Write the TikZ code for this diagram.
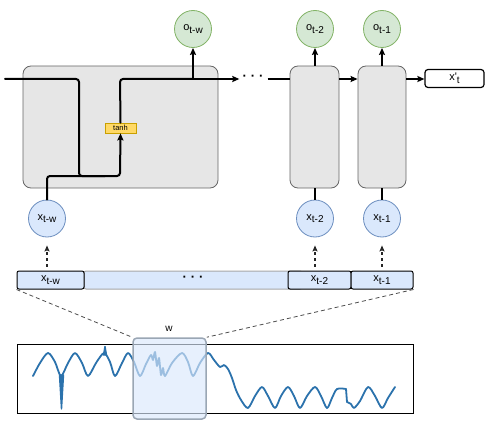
\documentclass[tikz,border=0pt]{standalone}
\usepackage{fontspec}
\setmainfont{Liberation Sans}[Ligatures=TeXOff]
\usetikzlibrary{arrows.meta}
\definecolor{bluefill}{HTML}{DAE8FC}
\definecolor{bluedraw}{HTML}{6C8EBF}
\definecolor{greenfill}{HTML}{D5E8D4}
\definecolor{greendraw}{HTML}{82B366}
\definecolor{cellfill}{HTML}{E6E6E6}
\definecolor{celldraw}{HTML}{666666}
\definecolor{tanhfill}{HTML}{FFD966}
\definecolor{tanhdraw}{HTML}{C9A000}
\definecolor{sig}{HTML}{2B72AC}
\definecolor{winedge}{HTML}{9AA6B4}
\newcommand{\mysub}[1]{\raisebox{-0.45ex}{\fontsize{10}{11}\selectfont #1}}
\tikzset{
  cellbox/.style={draw=celldraw, fill=cellfill, rounded corners=8pt, line width=0.8pt, inner sep=0pt},
  incirc/.style={circle, draw=bluedraw, fill=bluefill, minimum size=37pt, inner sep=0pt, line width=0.8pt, font=\fontsize{11}{13}\selectfont},
  outcirc/.style={circle, draw=greendraw, fill=greenfill, minimum size=37pt, inner sep=0pt, line width=0.8pt, font=\fontsize{11}{13}\selectfont},
  barcell/.style={draw=black, fill=bluefill, rounded corners=2pt, minimum height=18pt, inner sep=0pt, line width=1pt, font=\fontsize{11}{13}\selectfont},
  tip/.style={-{Stealth[length=7pt,width=6pt,inset=1pt]}},
  heavy/.style={line width=2pt, rounded corners=3pt, line cap=round},
  medium/.style={line width=1.4pt},
  dasharrow/.style={-{Stealth[length=6pt,width=5pt,inset=1pt]}, line width=1.2pt, dash pattern=on 3pt off 3pt, draw=black!85},
  guide/.style={line width=0.8pt, draw=black!70, dash pattern=on 4pt off 3pt},
  dotstext/.style={inner sep=1pt, font=\fontsize{13}{13}\selectfont\bfseries}
}
\begin{document}
\begin{tikzpicture}[x=1pt,y=-1pt]
\useasboundingbox (0,0) rectangle (485,428);
% LSTM cells
\node[cellbox, minimum width=195pt, minimum height=122pt] (cell1) at (120.5,127) {};
\node[cellbox, minimum width=49pt, minimum height=122pt] (cell2) at (314.5,127) {};
\node[cellbox, minimum width=48pt, minimum height=122pt] (cell3) at (382,127) {};
% output circles
\node[outcirc] (o1) at (193,29) {o\mysub{t-w}};
\node[outcirc] (o2) at (315,29) {o\mysub{t-2}};
\node[outcirc] (o3) at (382,29) {o\mysub{t-1}};
% input circles
\node[incirc] (xw) at (47,218.5) {x\mysub{t-w}};
\node[incirc] (x2) at (315,218.5) {x\mysub{t-2}};
\node[incirc] (x1) at (382,218.5) {x\mysub{t-1}};
% tanh
\node[draw=tanhdraw, fill=tanhfill, line width=0.7pt, minimum width=31pt, minimum height=10pt, inner sep=0pt, font=\fontsize{7.5}{8}\selectfont] (tanh) at (120.5,128) {tanh};
% output box
\node[draw=black, fill=white, rounded corners=3pt, line width=1.2pt, minimum width=59pt, minimum height=18pt, inner sep=0pt, font=\fontsize{11}{13}\selectfont] (xt) at (454.5,78.5) {x'\mysub{t}};
% coordinates
\coordinate (lin) at (5,79);
\coordinate (j) at (193,79);
\node[dotstext] (topdots) at (253,78) {·\hspace{4pt}·\hspace{4pt}·};
% inner wiring of first cell
\draw[heavy] (lin) -- (79,79) -- (79,176) -- (105,176);
\draw[heavy, tip] (xw.north) -- (47,176) -- (120,176) -- (tanh.south);
\draw[heavy] (tanh.north) -- (120,79) -- (j);
\draw[heavy, tip, rounded corners=0pt] (j) -- (o1.south);
\draw[medium, tip] (j) -- ([xshift=-2pt]topdots.west |- j);
\draw[medium] ([xshift=3pt]topdots.east |- j) -- (cell2.west |- j);
\draw[medium, tip] (cell2.east |- j) -- (cell3.west |- j);
\draw[medium, tip] (cell3.east |- j) -- (xt.west |- j);
\draw[medium, tip] (cell2.north -| o2) -- (o2.south);
\draw[medium, tip] (cell3.north -| o3) -- (o3.south);
\draw[medium] (x2.north) -- (cell2.south -| x2);
\draw[medium] (x1.north) -- (cell3.south -| x1);
% input bar
\node[barcell, draw=black!35, minimum width=218pt] (bmid) at (193,280) {};
\node[dotstext] (bdots) at (193,279) {·\hspace{4pt}·\hspace{4pt}·};
\node[barcell, minimum width=67pt] (bw) at (50.5,280) {x\mysub{t-w}};
\node[barcell, minimum width=63pt] (b2) at (319.5,280) {x\mysub{t-2}};
\node[barcell, minimum width=62pt] (b1) at (382,280) {x\mysub{t-1}};
\draw[dasharrow, shorten <=4pt, shorten >=8pt] (xw |- bw.north) -- (xw.south);
\draw[dasharrow, shorten <=4pt, shorten >=8pt] (x2 |- b2.north) -- (x2.south);
\draw[dasharrow, shorten <=4pt, shorten >=8pt] (x1 |- b1.north) -- (x1.south);
% time series plot
\node[draw=black, line width=1pt, minimum width=396pt, minimum height=69pt, inner sep=0pt] (plotbox) at (215,378.5) {};
\begin{scope}[sig, line width=1.8pt, line join=round, line cap=round]
\draw plot[smooth, tension=0.5] coordinates {
(33,376) (40,363) (48,353) (55,362) (61,376)
(68,363) (75,353) (82,363) (88,376)
(96,363) (104,353) (110,362) (115,376)
(122,363) (128,353) (134,362) (140,376)
(146,364) (151,355) (153,360) (155,352) (157,366) (159,358) (161,375) (163,368) (165,376)
(172,363) (182,353) (188,362) (193,376)
(200,363) (208,353) (214,360) (220,367) (224,365) (228,369) (232,378) (236,390) (241,400) (248,408)
(255,396) (262,387) (268,396) (275,408)
(281,396) (288,387) (294,396) (300,408)
(307,396) (315,387) (321,396) (327,408)
(332,398) (337,389) (346,389)};
\draw (346,389) -- (347,402);
\draw plot[smooth, tension=0.5] coordinates {
(347,402) (351,404) (354,408) (360,401) (368,387) (375,396) (382,408) (388,398) (395,387)};
\filldraw[line width=1.4pt] (59.5,375) -- (61.5,409) -- (63.5,375) -- cycle;
\filldraw[line width=1.4pt] (103.5,355) -- (105,346.5) -- (106.5,355) -- cycle;
\end{scope}
\node[draw=winedge, fill=bluefill, fill opacity=0.65, draw opacity=1, line width=1.5pt, rounded corners=4pt, minimum width=73pt, minimum height=81pt, inner sep=0pt] (win) at (169.5,378.5) {};
\node[font=\fontsize{10}{12}\selectfont, inner sep=1pt] (wlab) at (169,329) {w};
\draw[guide] (bw.south west) -- (win.north west);
\draw[guide] (b1.south east) -- (win.north east);
\end{tikzpicture}
\end{document}
